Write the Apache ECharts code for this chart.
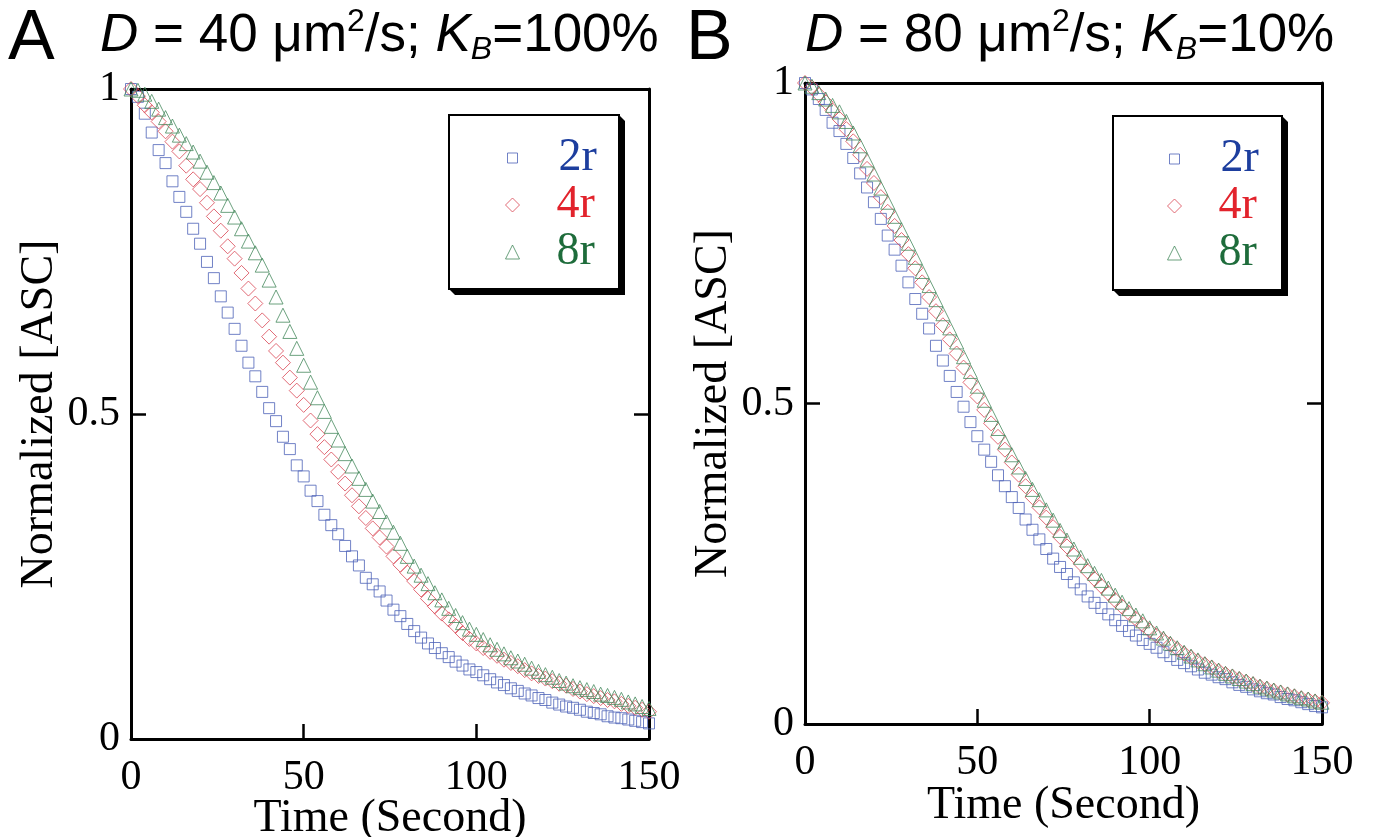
<!DOCTYPE html>
<html>
<head>
<meta charset="utf-8">
<title>Normalized ASC</title>
<script src="https://cdn.jsdelivr.net/npm/echarts@6/dist/echarts.min.js"></script>
<style>
html, body { margin: 0; padding: 0; background: #fff; }
#ASC_Chart { width: 1374px; height: 837px; }
</style>
</head>
<body>
<div id="ASC_Chart"></div>
<script>
// 時間(秒), 每2秒一點
var TimeSecond = [0, 2, 4, 6, 8, 10, 12, 14, 16, 18, 20, 22, 24, 26, 28, 30, 32, 34, 36, 38,
    40, 42, 44, 46, 48, 50, 52, 54, 56, 58, 60, 62, 64, 66, 68, 70, 72, 74, 76, 78,
    80, 82, 84, 86, 88, 90, 92, 94, 96, 98, 100, 102, 104, 106, 108, 110, 112, 114, 116, 118,
    120, 122, 124, 126, 128, 130, 132, 134, 136, 138, 140, 142, 144, 146, 148, 150];
// 座標刻度
var XTicks = [0, 50, 100, 150];
var YTicks = [0, 0.5, 1];
// 圖A: D = 40, KB = 100%
var A_2r = [1.000, 0.988, 0.962, 0.933, 0.906, 0.886, 0.858, 0.834, 0.811, 0.785,
    0.762, 0.734, 0.709, 0.681, 0.656, 0.631, 0.605, 0.579, 0.558, 0.534,
    0.509, 0.489, 0.465, 0.446, 0.421, 0.404, 0.382, 0.366, 0.345, 0.329,
    0.315, 0.297, 0.281, 0.267, 0.248, 0.238, 0.227, 0.213, 0.199, 0.189,
    0.177, 0.166, 0.156, 0.147, 0.140, 0.132, 0.126, 0.119, 0.113, 0.107,
    0.103, 0.098, 0.092, 0.087, 0.083, 0.078, 0.074, 0.070, 0.067, 0.063,
    0.060, 0.056, 0.053, 0.050, 0.048, 0.045, 0.042, 0.040, 0.038, 0.035,
    0.033, 0.032, 0.030, 0.028, 0.026, 0.024];
var A_4r = [1.000, 0.989, 0.975, 0.964, 0.950, 0.935, 0.919, 0.904, 0.882, 0.861,
    0.846, 0.825, 0.804, 0.782, 0.758, 0.739, 0.717, 0.693, 0.670, 0.644,
    0.619, 0.597, 0.579, 0.556, 0.536, 0.514, 0.490, 0.469, 0.449, 0.430,
    0.411, 0.393, 0.375, 0.358, 0.340, 0.324, 0.310, 0.296, 0.281, 0.268,
    0.256, 0.243, 0.230, 0.216, 0.204, 0.193, 0.184, 0.174, 0.163, 0.154,
    0.147, 0.140, 0.134, 0.128, 0.122, 0.117, 0.112, 0.106, 0.101, 0.097,
    0.093, 0.089, 0.085, 0.082, 0.077, 0.073, 0.069, 0.066, 0.063, 0.060,
    0.058, 0.054, 0.051, 0.048, 0.045, 0.042];
var A_8r = [1.000, 0.998, 0.992, 0.981, 0.969, 0.956, 0.943, 0.929, 0.916, 0.903,
    0.889, 0.872, 0.856, 0.840, 0.821, 0.803, 0.785, 0.766, 0.748, 0.729,
    0.706, 0.680, 0.652, 0.627, 0.601, 0.575, 0.549, 0.525, 0.504, 0.481,
    0.460, 0.439, 0.420, 0.401, 0.384, 0.366, 0.350, 0.334, 0.318, 0.301,
    0.281, 0.266, 0.252, 0.239, 0.225, 0.214, 0.201, 0.190, 0.179, 0.169,
    0.161, 0.153, 0.145, 0.138, 0.131, 0.125, 0.120, 0.115, 0.109, 0.104,
    0.099, 0.095, 0.090, 0.086, 0.082, 0.079, 0.076, 0.073, 0.069, 0.067,
    0.064, 0.061, 0.057, 0.054, 0.050, 0.047];
// 圖B: D = 80, KB = 10%
var B_2r = [1.000, 0.990, 0.975, 0.958, 0.938, 0.925, 0.905, 0.883, 0.859, 0.837,
    0.814, 0.788, 0.762, 0.740, 0.715, 0.689, 0.663, 0.640, 0.617, 0.590,
    0.567, 0.543, 0.518, 0.495, 0.471, 0.449, 0.428, 0.409, 0.388, 0.371,
    0.354, 0.337, 0.319, 0.303, 0.288, 0.273, 0.258, 0.245, 0.234, 0.221,
    0.210, 0.199, 0.189, 0.181, 0.171, 0.162, 0.153, 0.145, 0.138, 0.131,
    0.125, 0.119, 0.112, 0.106, 0.100, 0.095, 0.090, 0.085, 0.080, 0.077,
    0.073, 0.070, 0.065, 0.061, 0.058, 0.054, 0.051, 0.048, 0.046, 0.042,
    0.039, 0.037, 0.034, 0.031, 0.028, 0.026];
var B_4r = [1.000, 0.993, 0.982, 0.970, 0.957, 0.944, 0.928, 0.909, 0.888, 0.866,
    0.844, 0.822, 0.799, 0.777, 0.755, 0.733, 0.711, 0.689, 0.666, 0.644,
    0.622, 0.600, 0.578, 0.556, 0.533, 0.511, 0.490, 0.469, 0.448, 0.428,
    0.408, 0.389, 0.371, 0.354, 0.338, 0.322, 0.307, 0.292, 0.277, 0.263,
    0.250, 0.238, 0.226, 0.215, 0.204, 0.193, 0.183, 0.173, 0.164, 0.155,
    0.146, 0.138, 0.131, 0.124, 0.117, 0.110, 0.104, 0.098, 0.093, 0.088,
    0.083, 0.078, 0.074, 0.070, 0.066, 0.062, 0.058, 0.055, 0.052, 0.049,
    0.046, 0.043, 0.040, 0.038, 0.035, 0.033];
var B_8r = [1.000, 0.995, 0.985, 0.975, 0.965, 0.955, 0.940, 0.922, 0.902, 0.880,
    0.858, 0.836, 0.814, 0.792, 0.771, 0.750, 0.728, 0.706, 0.684, 0.662,
    0.640, 0.618, 0.596, 0.573, 0.550, 0.527, 0.505, 0.483, 0.461, 0.440,
    0.420, 0.401, 0.383, 0.366, 0.350, 0.334, 0.318, 0.302, 0.287, 0.273,
    0.260, 0.247, 0.235, 0.224, 0.212, 0.201, 0.190, 0.180, 0.170, 0.161,
    0.150, 0.142, 0.134, 0.126, 0.119, 0.112, 0.106, 0.100, 0.094, 0.089,
    0.084, 0.079, 0.075, 0.071, 0.067, 0.063, 0.059, 0.056, 0.053, 0.050,
    0.047, 0.044, 0.041, 0.039, 0.036, 0.034];
// 系列名稱
var SeriesName = ['2r', '4r', '8r'];
var PanelData = [[A_2r, A_4r, A_8r], [B_2r, B_4r, B_8r]];
// 標題文字
var PanelLetter = ['A', 'B'];
var PanelTitle = ['{i|D} = 40 \u03bcm{sup|2}/s; {i|K}{sub|B}=100%', '{i|D} = 80 \u03bcm{sup|2}/s; {i|K}{sub|B}=10%'];
var XName = 'Time (Second)';
var YName = 'Normalized [ASC]';
//=======================================
// 樣式
var MarkSymbol = ['rect', 'diamond', 'triangle'];
var MarkSize = [11, 15, 14];
var LegendIconSize = [10, 14, 14];
var MarkColor = ['#4e63b8', '#da4654', '#468a5e'];
var TextColor = ['#1d3e9e', '#e2232c', '#1e6c3b'];
var SerifFont = '"Liberation Serif", "Times New Roman", serif';
var SansFont = '"Liberation Sans", Arial, sans-serif';
// 版面位置
var GridLayout = [
    {left: 131, top: 89, width: 518, height: 650, containLabel: false, outerBoundsMode: 'none'},
    {left: 805, top: 83, width: 517, height: 641, containLabel: false, outerBoundsMode: 'none'}
];
var XNameGap = [57, 59];
var LetterPos = [{left: 8, top: 2}, {left: 686, top: 2}];
var TitlePos = [{left: 100, top: 6}, {left: 805, top: 6}];
var LegendBox = [{x: 449, y: 115, w: 170, h: 174}, {x: 1113, y: 116, w: 169, h: 174}];
var LegendMark = [{cx: 512, cy: [158, 205, 252]}, {cx: 1174, cy: [159, 206, 253]}];

var ASC_Chart = echarts.init(document.getElementById('ASC_Chart'));

// 繪圖
function ASCStatistics() {
    let title = [];
    let grid = [];
    let xAxis = [];
    let yAxis = [];
    let legend = [];
    let graphic = [];
    let series = [];
    let richStyle = {
        i: {fontStyle: 'italic', fontSize: 53, fontFamily: SansFont, lineHeight: 60, color: '#000'},
        sup: {fontSize: 32, fontFamily: SansFont, verticalAlign: 'top', lineHeight: 38, color: '#000'},
        sub: {fontSize: 32, fontStyle: 'italic', fontFamily: SansFont, verticalAlign: 'bottom', lineHeight: 30, color: '#000'}
    };
    for (let p = 0; p < 2; p++) {
        // 標題
        title.push({
            text: PanelLetter[p], left: LetterPos[p].left, top: LetterPos[p].top, padding: 0,
            textStyle: {fontSize: 70, fontWeight: 'normal', fontFamily: SansFont, color: '#000', lineHeight: 76}
        });
        title.push({
            text: PanelTitle[p], left: TitlePos[p].left, top: TitlePos[p].top, padding: 0,
            textStyle: {fontSize: 53, fontWeight: 'normal', fontFamily: SansFont, color: '#000', lineHeight: 60, rich: richStyle}
        });
        grid.push(GridLayout[p]);
        let frameLine = {show: true, onZero: false, lineStyle: {color: '#000', width: 3}};
        // 下方X軸
        xAxis.push({
            gridIndex: p, type: 'value', position: 'bottom',
            min: XTicks[0], max: XTicks[XTicks.length - 1], interval: XTicks[1] - XTicks[0],
            axisLine: frameLine,
            axisTick: {show: true, inside: true, length: 15, lineStyle: {color: '#000', width: 2.5}},
            axisLabel: {margin: 18, fontSize: 42, fontFamily: SerifFont, color: '#000'},
            splitLine: {show: false},
            name: XName, nameLocation: 'middle', nameGap: XNameGap[p], nameMoveOverlap: false,
            nameTextStyle: {fontSize: 46, fontFamily: SerifFont, color: '#000'}
        });
        // 上方框線
        xAxis.push({
            gridIndex: p, type: 'value', position: 'top',
            min: XTicks[0], max: XTicks[XTicks.length - 1], interval: XTicks[1] - XTicks[0],
            axisLine: frameLine, axisTick: {show: false}, axisLabel: {show: false}, splitLine: {show: false}
        });
        // 左方Y軸
        yAxis.push({
            gridIndex: p, type: 'value', position: 'left',
            min: YTicks[0], max: YTicks[YTicks.length - 1], interval: YTicks[1] - YTicks[0],
            axisLine: frameLine,
            axisTick: {show: true, inside: true, length: 15, lineStyle: {color: '#000', width: 2.5}},
            axisLabel: {margin: 11, fontSize: 42, fontFamily: SerifFont, color: '#000'},
            splitLine: {show: false},
            name: YName, nameLocation: 'middle', nameGap: 68, nameRotate: 90, nameMoveOverlap: false,
            nameTextStyle: {fontSize: 46, fontFamily: SerifFont, color: '#000'}
        });
        // 右方框線
        yAxis.push({
            gridIndex: p, type: 'value', position: 'right',
            min: YTicks[0], max: YTicks[YTicks.length - 1], interval: YTicks[1] - YTicks[0],
            axisLine: frameLine,
            axisTick: {show: true, inside: true, length: 15, lineStyle: {color: '#000', width: 2.5}},
            axisLabel: {show: false}, splitLine: {show: false}
        });
        // 圖例外框與陰影
        let b = LegendBox[p];
        graphic.push({
            type: 'polygon', z: 3,
            shape: {points: [[b.x + b.w, b.y], [b.x + b.w + 6, b.y + 6], [b.x + b.w + 6, b.y + b.h + 6],
                [b.x + 6, b.y + b.h + 6], [b.x, b.y + b.h], [b.x, b.y]]},
            style: {fill: '#000'}
        });
        graphic.push({
            type: 'rect', z: 3,
            shape: {x: b.x, y: b.y, width: b.w, height: b.h},
            style: {fill: '#fff', stroke: '#000', lineWidth: 2}
        });
        // 資料點與圖例
        for (let k = 0; k < SeriesName.length; k++) {
            let values = PanelData[p][k];
            let points = [];
            for (let i = 0; i < TimeSecond.length; i++) {
                points.push([TimeSecond[i], values[i]]);
            }
            let markStyle = {color: 'rgba(255,255,255,0)', borderColor: MarkColor[k], borderWidth: 1};
            series.push({
                name: SeriesName[k],
                type: 'scatter',
                xAxisIndex: p * 2,
                yAxisIndex: p * 2,
                symbol: MarkSymbol[k],
                symbolSize: MarkSize[k],
                clip: false,
                itemStyle: markStyle,
                emphasis: {disabled: true},
                data: points
            });
            let s = LegendIconSize[k];
            legend.push({
                orient: 'vertical', padding: 0, z: 5, selectedMode: false,
                left: LegendMark[p].cx - s / 2, top: LegendMark[p].cy[k] - 24,
                itemWidth: s, itemHeight: s, itemGap: 0,
                data: [{
                    name: SeriesName[k],
                    icon: MarkSymbol[k],
                    itemStyle: {color: 'rgba(255,255,255,0)', borderColor: MarkColor[k], borderWidth: 1},
                    textStyle: {color: TextColor[k], fontSize: 46, fontFamily: SerifFont, lineHeight: 48,
                        padding: [0, 0, 0, 46 - s]}
                }]
            });
        }
    }
    let option = {
        animation: false,
        backgroundColor: '#fff',
        title: title,
        grid: grid,
        xAxis: xAxis,
        yAxis: yAxis,
        legend: legend,
        graphic: graphic,
        series: series
    };
    ASC_Chart.setOption(option);
}

ASCStatistics();
</script>
</body>
</html>
